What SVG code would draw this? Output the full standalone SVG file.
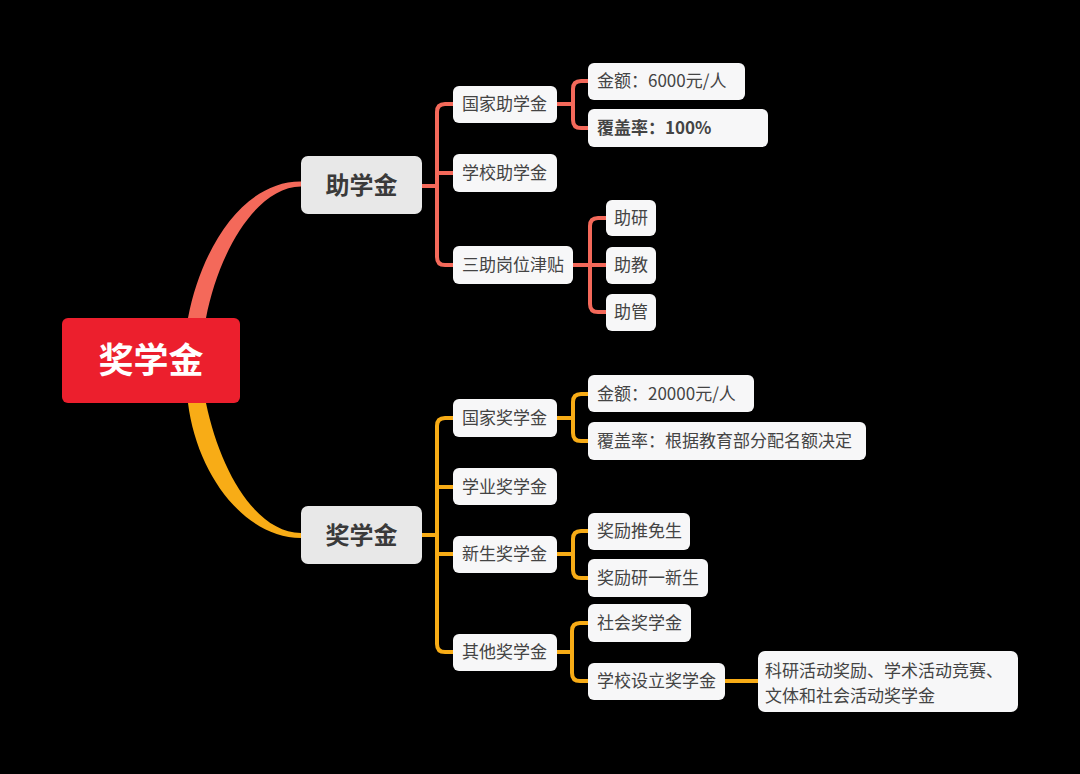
<svg xmlns="http://www.w3.org/2000/svg" width="1080" height="774" viewBox="0 0 1080 774">
<style>
text{font-family:"Noto Sans CJK SC","Noto Sans",sans-serif;}
.t{font-size:17px;fill:#444;}
.b{font-weight:700;}
.l1{font-size:24px;font-weight:700;fill:#3a3a3a;text-anchor:middle;}
.root{font-size:35px;font-weight:700;fill:#fff;text-anchor:middle;}
.n{fill:#F7F7F8;}
.n1{fill:#E8E8E8;}
.cr{fill:none;stroke:#F4695A;stroke-width:4;stroke-linecap:round;stroke-linejoin:round;}
.cy{fill:none;stroke:#F8AC16;stroke-width:4;stroke-linecap:round;stroke-linejoin:round;}
</style>
<rect width="1080" height="774" fill="#000"/>
<g id="connectors">
<path d="M188,318 C202,245 245,181 301,181.5 L301,186.5 C255,187 218,255 206,318 Z" fill="#F4695A"/>
<path d="M188,403 C197,475 245,538 301,538 L301,533 C255,532 220,470 206,403 Z" fill="#F8AC16"/>
<path class="cr" d="M422,186 H437 M453,104 H445 Q437,104 437,112 V257 Q437,265 445,265 H453 M437,173 H453"/>
<path class="cr" d="M557,104 H573 M588,81 H581 Q573,81 573,89 V120 Q573,128 581,128 H588"/>
<path class="cr" d="M573,265 H606 M606,218 H598 Q590,218 590,226 V304 Q590,312 598,312 H606"/>
<path class="cy" d="M422,535 H437 M453,418 H445 Q437,418 437,426 V644 Q437,652 445,652 H453 M437,487 H453 M437,554 H453"/>
<path class="cy" d="M557,418 H573 M588,394 H581 Q573,394 573,402 V433 Q573,441 581,441 H588"/>
<path class="cy" d="M557,554 H573 M588,531 H581 Q573,531 573,539 V570 Q573,578 581,578 H588"/>
<path class="cy" d="M557,652 H572 M588,623 H580 Q572,623 572,631 V673 Q572,681 580,681 H588"/>
<path class="cy" d="M725,681 H758"/>
</g>
<g id="root"><rect x="62" y="318" width="178" height="85" rx="6" fill="#EC1F2D"/><text class="root" x="151" y="373">奖学金</text></g>
<g id="zhuxuejin"><rect class="n1" x="301" y="156" width="121" height="58" rx="7"/><text class="l1" x="361.5" y="194">助学金</text></g>
<g id="jiangxuejin"><rect class="n1" x="301" y="506" width="121" height="58" rx="7"/><text class="l1" x="361.5" y="544">奖学金</text></g>
<g id="gjzxj"><rect class="n" x="453" y="86" width="104" height="37" rx="6"/><text class="t" x="462" y="110">国家助学金</text></g>
<g id="xxzxj"><rect class="n" x="453" y="154" width="104" height="38" rx="6"/><text class="t" x="462" y="179">学校助学金</text></g>
<g id="szgwjt"><rect class="n" x="453" y="246" width="120" height="38" rx="6"/><text class="t" x="462" y="271">三助岗位津贴</text></g>
<g id="je6000"><rect class="n" x="588" y="63" width="157" height="37" rx="6"/><text class="t" x="597" y="87">金额：6000元/人</text></g>
<g id="fgl100"><rect class="n" x="588" y="109" width="180" height="38" rx="6"/><text class="t b" x="597" y="134">覆盖率：100%</text></g>
<g id="zhuyan"><rect class="n" x="606" y="200" width="50" height="36" rx="6"/><text class="t" x="614" y="224">助研</text></g>
<g id="zhujiao"><rect class="n" x="606" y="247" width="50" height="37" rx="6"/><text class="t" x="614" y="271">助教</text></g>
<g id="zhuguan"><rect class="n" x="606" y="294" width="50" height="37" rx="6"/><text class="t" x="614" y="318">助管</text></g>
<g id="gjjxj"><rect class="n" x="453" y="399" width="104" height="38" rx="6"/><text class="t" x="462" y="424">国家奖学金</text></g>
<g id="xyjxj"><rect class="n" x="453" y="468" width="104" height="37" rx="6"/><text class="t" x="462" y="493">学业奖学金</text></g>
<g id="xsjxj"><rect class="n" x="453" y="536" width="104" height="37" rx="6"/><text class="t" x="462" y="560">新生奖学金</text></g>
<g id="qtjxj"><rect class="n" x="453" y="634" width="104" height="37" rx="6"/><text class="t" x="462" y="658">其他奖学金</text></g>
<g id="je20000"><rect class="n" x="588" y="375" width="166" height="37" rx="6"/><text class="t" x="597" y="400">金额：20000元/人</text></g>
<g id="fglgj"><rect class="n" x="588" y="422" width="278" height="38" rx="6"/><text class="t" x="597" y="447">覆盖率：根据教育部分配名额决定</text></g>
<g id="jltms"><rect class="n" x="588" y="513" width="102" height="37" rx="6"/><text class="t" x="597" y="537">奖励推免生</text></g>
<g id="jlyyxs"><rect class="n" x="588" y="559" width="120" height="38" rx="6"/><text class="t" x="597" y="584">奖励研一新生</text></g>
<g id="shjxj"><rect class="n" x="588" y="604" width="103" height="38" rx="6"/><text class="t" x="597" y="629">社会奖学金</text></g>
<g id="xxslsjxj"><rect class="n" x="588" y="663" width="137" height="37" rx="6"/><text class="t" x="597" y="687">学校设立奖学金</text></g>
<g id="kyhd"><rect class="n" x="758" y="651" width="260" height="61" rx="7"/><text class="t" x="765" y="677">科研活动奖励、学术活动竞赛、</text><text class="t" x="765" y="702">文体和社会活动奖学金</text></g>
</svg>
